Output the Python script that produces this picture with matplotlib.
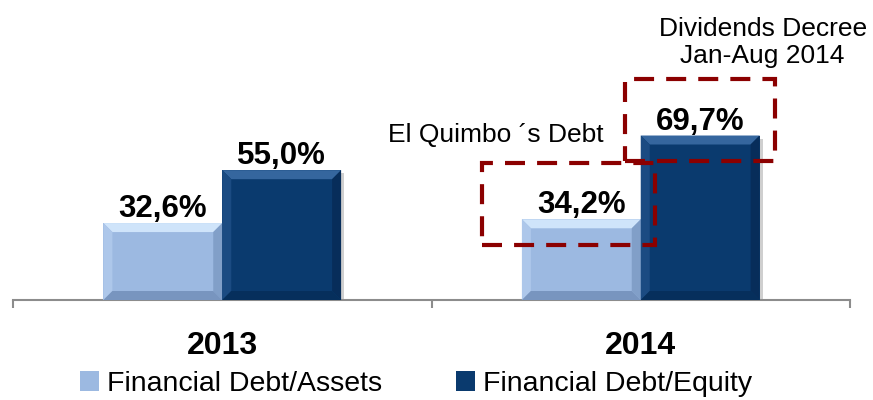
import numpy as np
import matplotlib.pyplot as plt
from matplotlib.patches import Polygon, Rectangle

plt.rcParams['font.family'] = ['Liberation Sans', 'DejaVu Sans']

# data
years = ['2013', '2014']
debt_assets = [32.6, 34.2]
debt_equity = [55.0, 69.7]
series_names = ['Financial Debt/Assets', 'Financial Debt/Equity']
note_quimbo = 'El Quimbo \u00b4s Debt'
note_dividends = 'Dividends Decree\nJan-Aug 2014'

# colours (face, top, left, right, bottom)
light = ['#9cb9e1', '#cfe4fa', '#adc7ea', '#819fc8', '#7895bf']
dark = ['#0a3a6e', '#35669e', '#1b4b82', '#072d5a', '#062f5c']
box_red = '#8b0000'
axis_grey = '#8c8c8c'

fig = plt.figure(figsize=(8.73, 4), dpi=100)
ax = fig.add_axes([13 / 873, 0.25, 837 / 873, 0.75])
ax.set_xlim(-0.5, 1.5)
ax.set_ylim(0, 300 / 2.36)

x = np.arange(len(years))
w = 0.284
bars1 = ax.bar(x - w / 2, debt_assets, w, color=light[0], zorder=3, label=series_names[0])
bars2 = ax.bar(x + w / 2, debt_equity, w, color=dark[0], zorder=3, label=series_names[1])

# pixel -> data conversion
p0 = ax.transData.transform((0, 0))
p1 = ax.transData.transform((1, 1))
px_x = 1.0 / (p1[0] - p0[0])
px_y = 1.0 / (p1[1] - p0[1])


def bevel(patch, cols, size=9):
    x0, y0 = patch.get_x(), patch.get_y()
    x1, y1 = x0 + patch.get_width(), y0 + patch.get_height()
    bx, by = size * px_x, size * px_y
    # soft shadow
    ax.add_patch(Rectangle((x0 + 3 * px_x, y0), patch.get_width(), patch.get_height() - 3 * px_y,
                           color='#b0b0b0', alpha=0.6, zorder=2, lw=0))
    parts = [
        ([(x0, y1), (x1, y1), (x1 - bx, y1 - by), (x0 + bx, y1 - by)], cols[1]),
        ([(x0, y0), (x0, y1), (x0 + bx, y1 - by), (x0 + bx, y0 + by)], cols[2]),
        ([(x1, y0), (x1, y1), (x1 - bx, y1 - by), (x1 - bx, y0 + by)], cols[3]),
        ([(x0, y0), (x1, y0), (x1 - bx, y0 + by), (x0 + bx, y0 + by)], cols[4]),
    ]
    for pts, c in parts:
        ax.add_patch(Polygon(pts, closed=True, color=c, lw=0, zorder=4))


for b in bars1:
    bevel(b, light)
for b in bars2:
    bevel(b, dark)

# value labels
for bars in (bars1, bars2):
    for b in bars:
        v = b.get_height()
        ax.annotate(f'{v:.1f}%'.replace('.', ','), (b.get_x() + b.get_width() / 2, v),
                    xytext=(0, 6), textcoords='offset pixels', ha='center', va='baseline',
                    fontsize=22.5, fontweight='bold', color='black', zorder=6)


# dashed boxes around the 2014 bars (horizontal padding in pixels, vertical in data units)
def dashed_box(patch, pad_l, pad_r, below=11, above=24):
    x0 = patch.get_x() - pad_l * px_x
    x1 = patch.get_x() + patch.get_width() + pad_r * px_x
    y0 = patch.get_height() - below
    y1 = patch.get_height() + above
    r = Rectangle((x0, y0), x1 - x0, y1 - y0, fill=False, ec=box_red, lw=3,
                  ls=(0, (4.8, 2.9)), zorder=7, clip_on=False)
    ax.add_patch(r)
    return x0, x1, y0, y1


qb = dashed_box(bars1[1], 40, 14)
db = dashed_box(bars2[1], 16, 15)

ax.annotate(note_quimbo, (db[0], qb[3]), xytext=(-21, 21), textcoords='offset pixels',
            ha='right', va='baseline', fontsize=19, color='black')
ax.annotate(note_dividends, (db[1], db[3]), xytext=(-12, 11), textcoords='offset pixels',
            ha='center', va='bottom', fontsize=19, color='black', multialignment='center',
            linespacing=1.15)

# axes styling
for s in ('top', 'left', 'right'):
    ax.spines[s].set_visible(False)
ax.spines['bottom'].set_color(axis_grey)
ax.spines['bottom'].set_linewidth(1.5)
ax.set_yticks([])
ax.set_xticks(x, years, fontsize=23, fontweight='bold')
ax.set_xticks([-0.5, 0.5, 1.5], minor=True)
ax.tick_params(axis='x', which='major', length=0, pad=22)
ax.tick_params(axis='x', which='minor', length=6, width=1.5, color=axis_grey, direction='out')

leg = fig.legend(handles=[bars1, bars2], labels=series_names, loc='center left',
                 bbox_to_anchor=(80 / 873, 0.04), ncol=2, frameon=False, fontsize=20.5,
                 handlelength=0.65, handleheight=0.65, handletextpad=0.3,
                 columnspacing=2.6, borderpad=0, borderaxespad=0)

fig.savefig('out.png', dpi=100)
